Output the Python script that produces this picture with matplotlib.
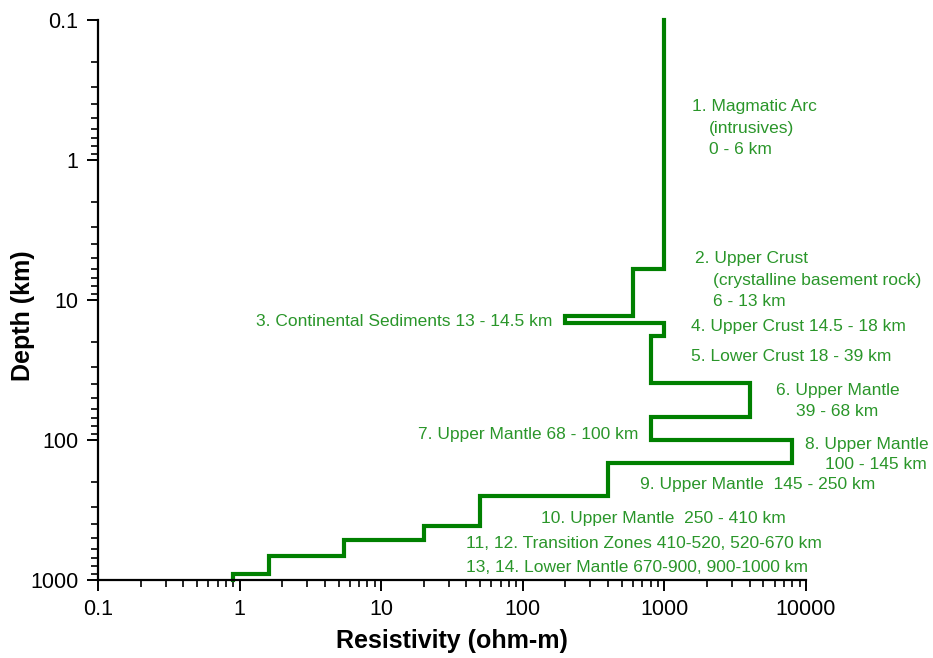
import numpy as np
import matplotlib
matplotlib.use("Agg")
import matplotlib.pyplot as plt
from matplotlib.ticker import LogLocator, FixedFormatter, FixedLocator, NullFormatter

plt.rcParams["font.family"] = ["Liberation Sans", "DejaVu Sans"]

# --- Layered resistivity model ---------------------------------------------
# layer boundaries (km) and resistivity of each layer (ohm-m)
boundaries = [0.1, 6, 13, 14.5, 18, 39, 68, 100, 145, 250, 410, 520, 670, 900, 1000]
resistivity = [1000, 600, 200, 1000, 800, 4000, 800, 8000, 400, 50, 20, 5.5, 1.6, 0.9]

x_ticks = [0.1, 1, 10, 100, 1000, 10000]
x_tick_labels = ["0.1", "1", "10", "100", "1000", "10000"]
y_ticks = [0.1, 1, 10, 100, 1000]
y_tick_labels = ["0.1", "1", "10", "100", "1000"]

# annotation text: (text, left x px, centre y px) in reference pixel space
layer_notes = [
    ("1. Magmatic Arc", 692, 106),
    ("(intrusives)", 709, 128),
    ("0 - 6 km", 709, 150),
    ("2. Upper Crust", 695, 259),
    ("(crystalline basement rock)", 713, 280),
    ("6 - 13 km", 713, 301),
    ("3. Continental Sediments 13 - 14.5 km", 256, 322),
    ("4. Upper Crust 14.5 - 18 km", 691, 327),
    ("5. Lower Crust 18 - 39 km", 691, 357),
    ("6. Upper Mantle", 776, 391),
    ("39 - 68 km", 796, 412),
    ("7. Upper Mantle 68 - 100 km", 418, 435),
    ("8. Upper Mantle", 805, 444),
    ("100 - 145 km", 825, 465),
    ("9. Upper Mantle  145 - 250 km", 640, 484),
    ("10. Upper Mantle  250 - 410 km", 541, 518),
    ("11, 12. Transition Zones 410-520, 520-670 km", 466, 543),
    ("13, 14. Lower Mantle 670-900, 900-1000 km", 466, 567),
]

LINE_COLOR = "#008000"
TEXT_COLOR = "#2a962a"

W, H = 933, 658
AX_L, AX_R, AX_T, AX_B = 98, 806, 20, 580

fig = plt.figure(figsize=(W / 100, H / 100), dpi=100)
ax = fig.add_axes([AX_L / W, 1 - AX_B / H, (AX_R - AX_L) / W, (AX_B - AX_T) / H])

# step profile: each layer is a vertical segment, joined by horizontal steps
xs = np.repeat(resistivity, 2)
ys = np.column_stack([boundaries[:-1], boundaries[1:]]).ravel()
ax.plot(xs, ys, color=LINE_COLOR, lw=3.0, solid_joinstyle="miter", clip_on=False)

ax.set_xscale("log")
ax.set_yscale("log")
ax.set_xlim(0.1, 10000)
ax.set_ylim(1000, 0.1)

ax.xaxis.set_major_locator(FixedLocator(x_ticks))
ax.xaxis.set_major_formatter(FixedFormatter(x_tick_labels))
ax.yaxis.set_major_locator(FixedLocator(y_ticks))
ax.yaxis.set_major_formatter(FixedFormatter(y_tick_labels))
ax.xaxis.set_minor_locator(LogLocator(base=10, subs=np.arange(2, 10)))
ax.yaxis.set_minor_locator(LogLocator(base=10, subs=np.arange(2, 10)))
ax.xaxis.set_minor_formatter(NullFormatter())
ax.yaxis.set_minor_formatter(NullFormatter())

for side in ("top", "right"):
    ax.spines[side].set_visible(False)
for side in ("left", "bottom"):
    ax.spines[side].set_linewidth(1.6)

ax.tick_params(which="major", direction="out", length=8, width=1.4,
               labelsize=15.5, pad=6, colors="black")
ax.tick_params(which="minor", direction="out", length=5, width=1.2)

ax.set_xlabel("Resistivity (ohm-m)", fontsize=18, fontweight="bold", labelpad=6)
fig.text(23 / W, 1 - 316 / H, "Depth (km)", rotation=90, ha="center", va="center",
         fontsize=18, fontweight="bold")

for text, px, py in layer_notes:
    fx = (px - AX_L) / (AX_R - AX_L)
    fy = 1 - (py - AX_T) / (AX_B - AX_T)
    ax.text(fx, fy, text, transform=ax.transAxes, ha="left", va="center",
            fontsize=12.5, color=TEXT_COLOR, clip_on=False)

fig.savefig("out.png", dpi=100)
